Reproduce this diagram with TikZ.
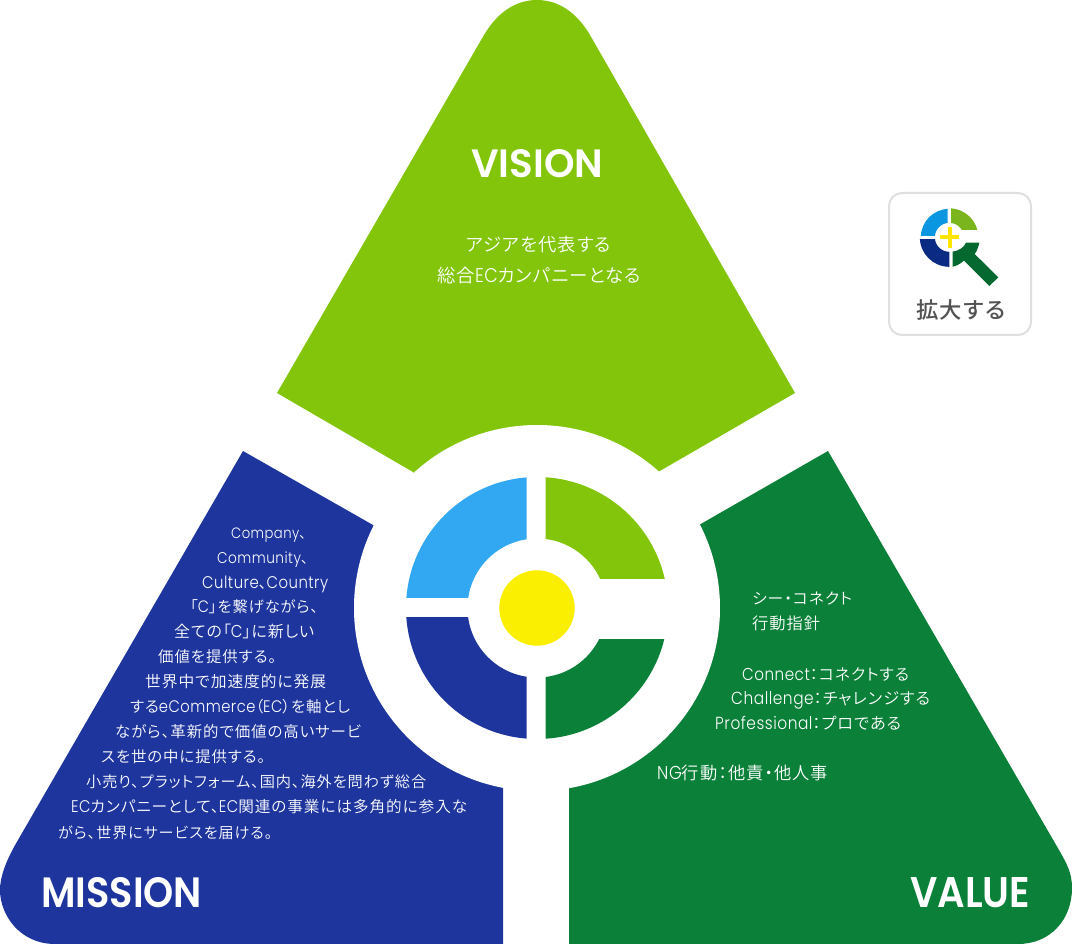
\documentclass[tikz,border=0pt]{standalone}
\usepackage{graphicx}
\usepackage{fontspec}
\setmainfont{Noto Sans CJK JP}[RawFeature=+palt]
\newfontfamily\jpf{Noto Sans CJK JP DemiLight}[RawFeature=+palt,LetterSpace=6]
\newfontfamily\jpm{Noto Sans CJK JP Medium}[RawFeature=+palt,LetterSpace=6]
\newfontfamily\latf{Poppins Light}[LetterSpace=3,FakeStretch=0.88,Scale=1.08]
\newfontfamily\headf{Poppins SemiBold}
\newcommand\La[1]{{\latf #1}}
\newcommand\Fit[2]{\resizebox{#1pt}{!}{#2}}
\newcommand\FitH[3]{\resizebox{#1pt}{#2pt}{#3}}
\definecolor{cvision}{HTML}{82C50A}
\definecolor{cmission}{HTML}{1E359E}
\definecolor{cvalue}{HTML}{0A8039}
\definecolor{csky}{HTML}{33A8F2}
\definecolor{cyel}{HTML}{FBEF00}
\definecolor{iblue}{HTML}{0A96E0}
\definecolor{inavy}{HTML}{0B2A83}
\definecolor{igreen}{HTML}{7AB51D}
\definecolor{idark}{HTML}{04692F}
\definecolor{iyel}{HTML}{FFE600}
\tikzset{
  tx/.style={inner sep=0pt,anchor=base west,text=white,font=\jpf\fontsize{15pt}{15pt}\selectfont},
  hd/.style={inner sep=0pt,anchor=base west,text=white,font=\headf\fontsize{40pt}{40pt}\selectfont},
}
\begin{document}
\begin{tikzpicture}[x=1pt,y=-1pt]
\useasboundingbox (0,0) rectangle (1072,944);
\coordinate (c) at (537,608);
% sectors
\fill[cvision] (277,393) -- (484,35) .. controls (500,8) and (520,0) .. (537,0) .. controls (554,0) and (574,8) .. (590,35) -- (795,393) -- (658,472) -- (c) -- (413,472) -- cycle;
\fill[cmission] (243,451) -- (373,525) -- (c) -- (503,788) -- (503,944) -- (55,944) .. controls (20,944) and (0,915) .. (0,890) .. controls (0,878) and (5,862) .. (18,840) -- cycle;
\fill[cvalue] (828,451) -- (699,525) -- (c) -- (569,788) -- (569,944) -- (1018,944) .. controls (1050,944) and (1072,920) .. (1072,888) .. controls (1072,873) and (1067,864) .. (1059,850) -- cycle;
\fill[white] (c) circle[radius=183pt];
% rings
\begin{scope}\clip (400,470) rectangle (526.7,597.3);
\fill[csky,even odd rule] (c) circle[radius=131pt] (c) circle[radius=69.5pt];\end{scope}
\begin{scope}\clip (400,617.7) rectangle (526.7,750);
\fill[cmission,even odd rule] (c) circle[radius=131pt] (c) circle[radius=69.5pt];\end{scope}
\begin{scope}\clip (545.7,470) rectangle (680,578);
\fill[cvision,even odd rule] (c) circle[radius=131pt] (c) circle[radius=69.5pt];\end{scope}
\begin{scope}\clip (545.7,639) rectangle (680,750);
\fill[cvalue,even odd rule] (c) circle[radius=131pt] (c) circle[radius=69.5pt];\end{scope}
\fill[cyel] (c) circle[radius=37.7pt];
% headings
\node[hd] (hv) at (471,178) {\FitH{132}{28}{VISION}};
\node[hd] (hm) at (41,907) {\FitH{161}{30}{MISSION}};
\node[hd] (hl) at (910,907) {\FitH{120}{30}{VALUE}};
% vision
\node[tx] (v1) at (466,252) {\Fit{145}{アジアを代表する}};
\node[tx] (v2) at (437,283) {\Fit{204}{総合\La{EC}カンパニーとなる}};
% mission
\node[tx] (m1) at (231,538) {\Fit{75}{\La{Company}、}};
\node[tx] (m2) at (217,563) {\Fit{91}{\La{Community}、}};
\node[tx] (m3) at (202,588) {\Fit{126}{\La{Culture}、\La{Country}}};
\node[tx] (m4) at (190,612.5) {\Fit{128}{「\La{C}」を繋げながら、}};
\node[tx] (m5) at (174,637.5) {\Fit{140}{全ての「\La{C}」に新しい}};
\node[tx] (m6) at (158,662.5) {\Fit{118}{価値を提供する。}};
\node[tx] (m7) at (145,687.5) {\Fit{181}{世界中で加速度的に発展}};
\node[tx] (m8) at (130,712.5) {\Fit{220}{する\La{eCommerce}（\La{EC}）を軸とし}};
\node[tx] (m9) at (115,737.5) {\Fit{246}{ながら、革新的で価値の高いサービ}};
\node[tx] (m10) at (101,762.5) {\Fit{164}{スを世の中に提供する。}};
\node[tx] (m11) at (86,787.5) {\Fit{340}{小売り、プラットフォーム、国内、海外を問わず総合}};
\node[tx] (m12) at (71,812.5) {\Fit{396}{\La{EC}カンパニーとして、\La{EC}関連の事業には多角的に参入な}};
\node[tx] (m13) at (58,838.5) {\Fit{214}{がら、世界にサービスを届ける。}};
% value
\node[tx] (w1) at (752,604.5) {\Fit{100}{シー・コネクト}};
\node[tx] (w2) at (752,629.5) {\Fit{68}{行動指針}};
\node[tx] (w3) at (742,680) {\Fit{167}{\La{Connect}：コネクトする}};
\node[tx] (w4) at (731,704) {\Fit{199}{\La{Challenge}：チャレンジする}};
\node[tx] (w5) at (715,729) {\Fit{186}{\La{Professional}：プロである}};
\node[tx] (w6) at (657,779.5) {\Fit{171}{\La{NG}行動：他責・他人事}};
% zoom button
\draw[draw=black!12!white,line width=2pt,fill=white,rounded corners=13pt] (889,193) rectangle (1031,335);
\begin{scope}[shift={(880,180)},x=.3333pt,y=-.3333pt]
\coordinate (ic) at (208,172);
\begin{scope}\clip (100,60) rectangle (203,168);
\fill[iblue,even odd rule] (ic) circle[radius=28.5pt] (ic) circle[radius=14.5pt];\end{scope}
\begin{scope}\clip (100,178) rectangle (208,290);
\fill[inavy,even odd rule] (ic) circle[radius=29.5pt] (ic) circle[radius=14.5pt];\end{scope}
\begin{scope}\clip (213,60) rectangle (320,150);
\fill[igreen,even odd rule] (ic) circle[radius=29pt] (ic) circle[radius=14.5pt];\end{scope}
\fill[idark] (258,188) -- (298,188) .. controls (295,202) and (291,213) .. (284,222) -- (355,292) -- (328,318) -- (252,242) .. controls (240,252) and (230,258) .. (218,260) -- (218,215) .. controls (238,212) and (252,202) .. (258,188) -- cycle;
\fill[iyel] (180,166) rectangle (238,178);
\fill[iyel] (203,142) rectangle (215,203);
\end{scope}
\node[inner sep=0pt,anchor=base west,text=black!68!white,font=\jpm\fontsize{22pt}{22pt}\selectfont] (bt) at (916,319) {\Fit{89}{拡大する}};
\end{tikzpicture}
\end{document}
